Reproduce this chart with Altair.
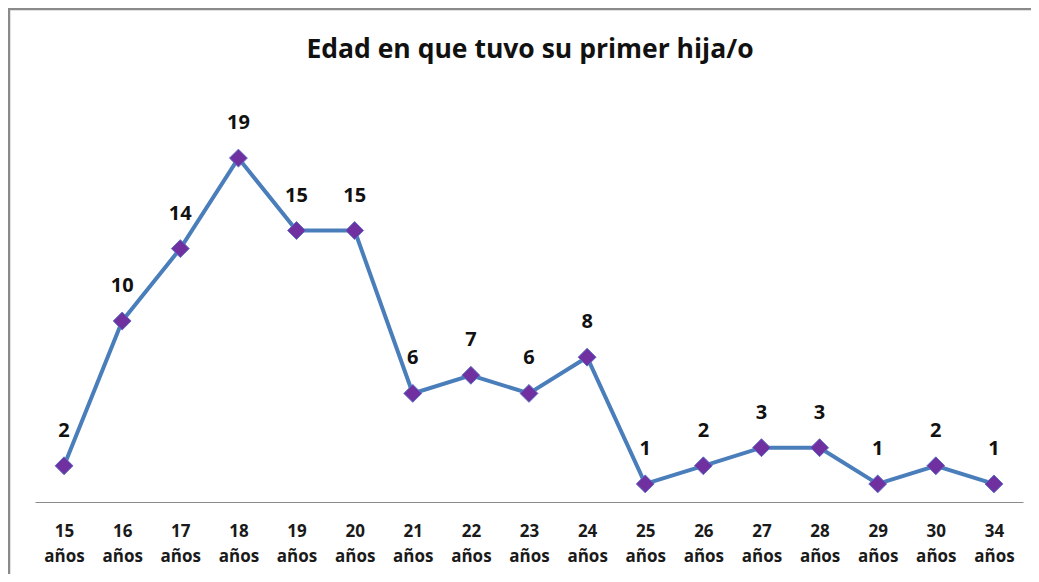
import altair as alt
import pandas as pd

categories = ["15 años", "16 años", "17 años", "18 años", "19 años", "20 años",
              "21 años", "22 años", "23 años", "24 años", "25 años", "26 años",
              "27 años", "28 años", "29 años", "30 años", "34 años"]
values = [2, 10, 14, 19, 15, 15, 6, 7, 6, 8, 1, 2, 3, 3, 1, 2, 1]
title_text = "Edad en que tuvo su primer hija/o"

df = pd.DataFrame({"edad": categories, "n": values})

FONT = "Open Sans"

x = alt.X("edad:N", sort=categories, title=None,
          scale=alt.Scale(paddingInner=0, paddingOuter=0),
          axis=alt.Axis(labelExpr="split(datum.label, ' ')", labelAngle=0,
                        labelFont=FONT, labelFontSize=17, labelFontWeight="bold",
                        labelColor="#1a1a1a", labelLineHeight=25, labelPadding=21,
                        ticks=False, domainColor="#8c8c8c", domainWidth=1.2,
                        grid=False))
y = alt.Y("n:Q", title=None, scale=alt.Scale(domain=[0, 20], nice=False),
          axis=None)

base = alt.Chart(df).encode(x=x, y=y)

line = base.mark_line(color="#4a7ebb", strokeWidth=4)
points = base.mark_point(shape="diamond", filled=True, size=320, color="#7030a0",
                         opacity=1, stroke="#5a6fc8", strokeWidth=1)
labels = base.mark_text(dy=-35, font=FONT, fontSize=20, fontWeight="bold",
                        color="#111111", baseline="middle").encode(text="n:Q")

frame_data = alt.Data(values=[{"t": title_text}])
top_border = alt.Chart(frame_data).mark_rule(color="#8a8a8a", strokeWidth=2.5).encode(
    x=alt.value(-27), x2=alt.value(1000), y=alt.value(-131))
left_border = alt.Chart(frame_data).mark_rule(color="#8a8a8a", strokeWidth=2.5).encode(
    x=alt.value(-26), y=alt.value(-132), y2=alt.value(440))
title = alt.Chart(frame_data).mark_text(font=FONT, fontSize=26.5, fontWeight="bold",
                                        color="#111111", baseline="middle").encode(
    x=alt.value(495), y=alt.value(-90), text="t:N")

chart = alt.layer(top_border, left_border, title, line, points, labels).properties(
    width=988, height=362,
    background="white",
    autosize=alt.AutoSizeParams(type="none"),
    padding={"left": 27, "top": 132, "right": 8, "bottom": 72},
).configure_view(strokeWidth=0)

chart.save("out.html", embed_options={"renderer": "svg", "actions": False})
